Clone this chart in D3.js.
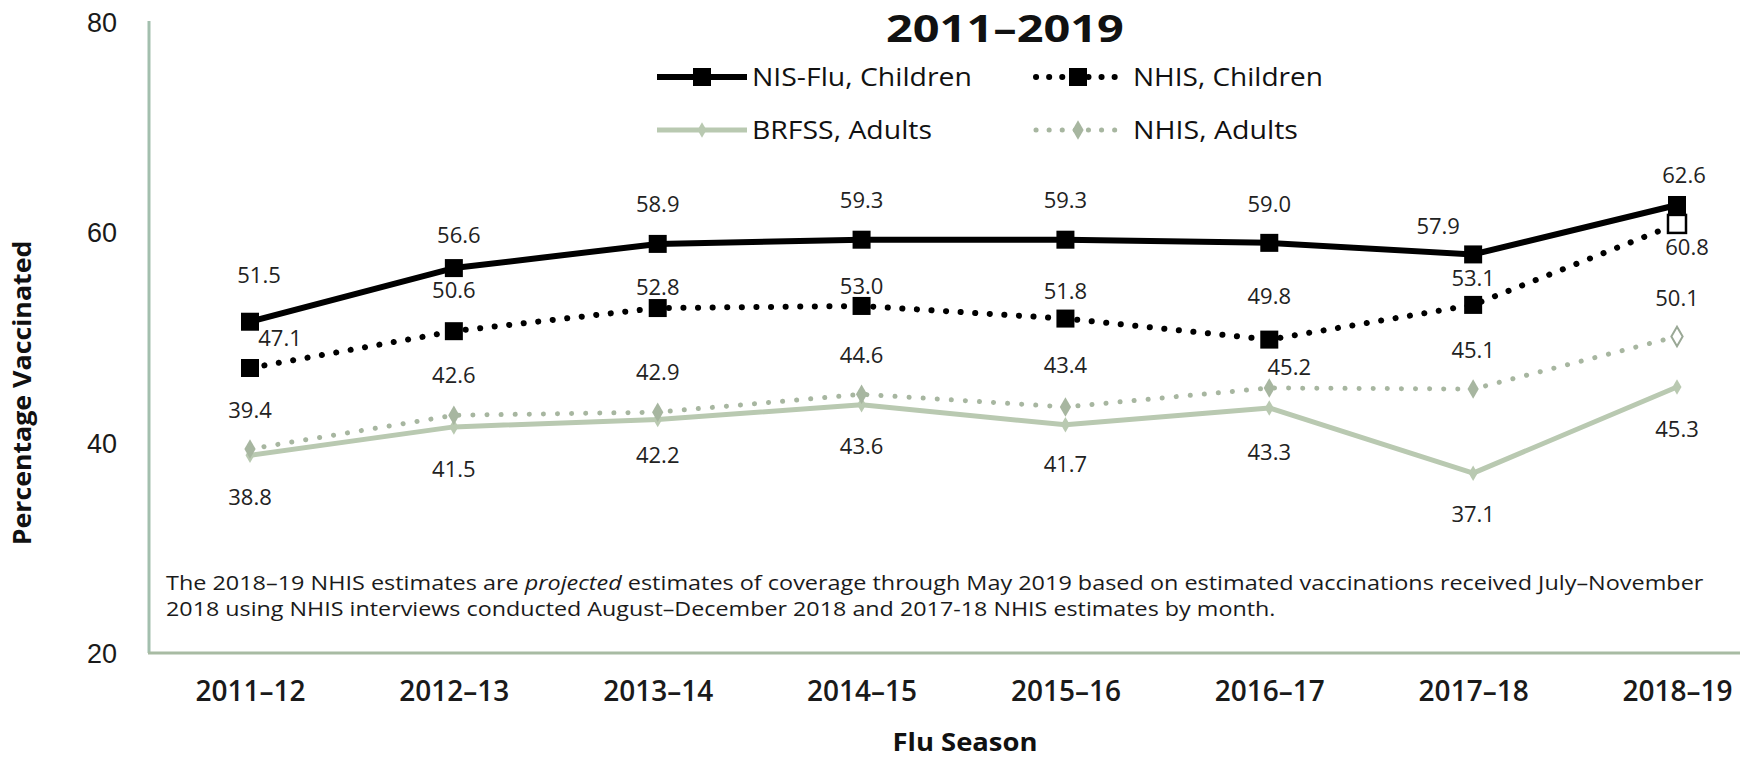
<!DOCTYPE html>
<html>
<head>
<meta charset="utf-8">
<script src="https://cdn.jsdelivr.net/npm/d3@7"></script>
<style>
  body { margin: 0; background: #fff; }
  svg { display: block; }
</style>
</head>
<body>
<div id="chart"></div>
<script>
// values
const seasons = ["2011–12", "2012–13", "2013–14", "2014–15", "2015–16", "2016–17", "2017–18", "2018–19"];
const nisFluChildren = [51.5, 56.6, 58.9, 59.3, 59.3, 59.0, 57.9, 62.6];
const nhisChildren = [47.1, 50.6, 52.8, 53.0, 51.8, 49.8, 53.1, 60.8];
const brfssAdults = [38.8, 41.5, 42.2, 43.6, 41.7, 43.3, 37.1, 45.3];
const nhisAdults = [39.4, 42.6, 42.9, 44.6, 43.4, 45.2, 45.1, 50.1];
const projectedSeason = "2018–19";
const yTicks = [20, 40, 60, 80];

const titleText = "2011–2019";
const noteLine1 = ["The 2018–19 NHIS estimates are ", "projected", " estimates of coverage through May 2019 based on estimated vaccinations received July–November"];
const noteLine2 = "2018 using NHIS interviews conducted August–December 2018 and 2017-18 NHIS estimates by month.";

const W = 1740, H = 759;
const axisColor = "#a3bfae";
const txtFont = "'Open Sans', 'Noto Sans', sans-serif";

const svg = d3.select("#chart").append("svg")
    .attr("width", W)
    .attr("height", H);

const x = d3.scalePoint().domain(seasons).range([250, 1677]);
const y = d3.scaleLinear().domain([20, 80]).range([653, 22]);

// label nudges (dx, dy from the point), one per season
const series = [
    { name: "BRFSS, Adults", values: brfssAdults, color: "#b9c9b1", width: 5, dash: null,
      marker: "diamond", msize: 70, legendW: 180,
      nudge: [[0, 42], [0, 42], [0, 36], [0, 41], [0, 40], [0, 44], [0, 41], [0, 42]] },
    { name: "NHIS, Adults", values: nhisAdults, color: "#a7b6a0", width: 5, dash: "0.1 14",
      marker: "diamond", msize: 110, legendW: 165,
      nudge: [[0, -39], [0, -40], [0, -40], [0, -39], [0, -42], [20, -21], [0, -39], [0, -38]] },
    { name: "NHIS, Children", values: nhisChildren, color: "#000", width: 6, dash: "0.1 14.5",
      marker: "square", msize: 18, legendW: 190,
      nudge: [[30, -30], [0, -41], [0, -21], [0, -20], [0, -27], [0, -43], [0, -27], [10, 23]] },
    { name: "NIS-Flu, Children", values: nisFluChildren, color: "#000", width: 6, dash: null,
      marker: "square", msize: 18, legendW: 220,
      nudge: [[9, -46], [5, -33], [0, -40], [0, -39], [0, -39], [0, -39], [-35, -28], [7, -30]] }
];

// axes
const yAxis = svg.append("g")
    .attr("transform", "translate(149,0)")
    .call(d3.axisLeft(y).tickValues(yTicks).tickSize(0).tickPadding(32).tickFormat(d3.format("d")));
yAxis.select(".domain").remove();
yAxis.selectAll("text")
    .style("font-family", "'Liberation Sans', Arial, sans-serif")
    .style("font-size", "27px")
    .attr("fill", "#1a1a1a")
    .attr("dy", "0.35em");

const xAxis = svg.append("g")
    .attr("transform", "translate(0," + y(20) + ")")
    .call(d3.axisBottom(x).tickSize(0).tickPadding(28));
xAxis.select(".domain").remove();
xAxis.selectAll("text")
    .style("font-family", txtFont)
    .style("font-size", "28px")
    .style("font-weight", "600")
    .attr("fill", "#1a1a1a");

svg.append("line")
    .attr("x1", 149).attr("x2", 149)
    .attr("y1", y(80) - 1).attr("y2", y(20))
    .attr("stroke", axisColor).attr("stroke-width", 3);
svg.append("line")
    .attr("x1", 148).attr("x2", W)
    .attr("y1", y(20)).attr("y2", y(20))
    .attr("stroke", "#a8bba3").attr("stroke-width", 3);

// stretch a text element horizontally to a target width
function fitWidth(sel, x0, target) {
    const w = sel.node().getComputedTextLength();
    sel.attr("transform", "translate(" + x0 + ",0) scale(" + (target / w) + ",1) translate(" + (-x0) + ",0)");
}

// axis titles
const yTitle = svg.append("text")
    .attr("text-anchor", "middle")
    .style("font-family", txtFont)
    .style("font-size", "25px")
    .style("font-weight", "bold")
    .attr("fill", "#111")
    .text("Percentage Vaccinated");
const yk = 305 / yTitle.node().getComputedTextLength();
yTitle.attr("transform", "translate(31,393) rotate(-90) scale(" + yk + ",1)");

const xTitle = svg.append("text")
    .attr("x", 965).attr("y", 751)
    .attr("text-anchor", "middle")
    .style("font-family", txtFont)
    .style("font-size", "25px")
    .style("font-weight", "bold")
    .attr("fill", "#111")
    .text("Flu Season");
fitWidth(xTitle, 965, 145);

// title
const title = svg.append("text")
    .attr("x", 886).attr("y", 42)
    .style("font-family", txtFont)
    .style("font-size", "38px")
    .style("font-weight", "bold")
    .attr("fill", "#111")
    .text(titleText);
fitWidth(title, 886, 238);

// note
const note1 = svg.append("text")
    .attr("x", 166).attr("y", 590)
    .style("font-family", txtFont)
    .style("font-size", "20.5px")
    .attr("fill", "#1a1a1a");
note1.selectAll("tspan")
    .data(noteLine1)
    .join("tspan")
    .style("font-style", (d, i) => i === 1 ? "italic" : "normal")
    .text(d => d);
fitWidth(note1, 166, 1538);

const note2 = svg.append("text")
    .attr("x", 166).attr("y", 616)
    .style("font-family", txtFont)
    .style("font-size", "20.5px")
    .attr("fill", "#1a1a1a")
    .text(noteLine2);
fitWidth(note2, 166, 1110);

// lines, markers, labels
const line = d3.line()
    .x((d, i) => x(seasons[i]))
    .y(d => y(d));

function drawMarker(g, s, cx, cy, open) {
    if (s.marker === "square") {
        g.append("rect")
            .attr("x", cx - s.msize / 2).attr("y", cy - s.msize / 2)
            .attr("width", s.msize).attr("height", s.msize)
            .attr("fill", open ? "#fff" : s.color)
            .attr("stroke", s.color)
            .attr("stroke-width", open ? 2.5 : 0);
    } else {
        g.append("path")
            .attr("transform", "translate(" + cx + "," + cy + ")")
            .attr("d", d3.symbol().type(d3.symbolDiamond).size(s.msize)())
            .attr("fill", open ? "#fff" : s.color)
            .attr("stroke", open ? "#9aa896" : s.color)
            .attr("stroke-width", open ? 2 : 0);
    }
}

series.forEach(s => {
    const g = svg.append("g");
    g.append("path")
        .datum(s.values)
        .attr("d", line)
        .attr("fill", "none")
        .attr("stroke", s.color)
        .attr("stroke-width", s.width)
        .attr("stroke-linecap", s.dash ? "round" : "butt")
        .attr("stroke-linejoin", "round")
        .attr("stroke-dasharray", s.dash);

    s.values.forEach((v, i) => {
        const open = s.name.startsWith("NHIS") && seasons[i] === projectedSeason;
        drawMarker(g, s, x(seasons[i]), y(v), open);
    });
});

// data labels on top of everything
series.forEach(s => {
    svg.append("g").selectAll("text")
        .data(s.values)
        .join("text")
        .attr("x", (d, i) => x(seasons[i]) + s.nudge[i][0])
        .attr("y", (d, i) => y(d) + s.nudge[i][1])
        .attr("dy", "0.35em")
        .attr("text-anchor", "middle")
        .style("font-family", txtFont)
        .style("font-size", "22px")
        .attr("fill", "#222")
        .text(d => d.toFixed(1));
});

// legend
const legendItems = [
    { s: series[3], x0: 657, y0: 77 },
    { s: series[2], x0: 1036, y0: 77 },
    { s: series[0], x0: 657, y0: 130 },
    { s: series[1], x0: 1036, y0: 130 }
];
legendItems.forEach(it => {
    const s = it.s;
    const g = svg.append("g");
    const len = s.dash ? 84 : 90;
    g.append("line")
        .attr("x1", it.x0).attr("x2", it.x0 + len)
        .attr("y1", it.y0).attr("y2", it.y0)
        .attr("stroke", s.color)
        .attr("stroke-width", s.width)
        .attr("stroke-linecap", s.dash ? "round" : "butt")
        .attr("stroke-dasharray", s.dash ? "0.1 13" : null);
    drawMarker(g, s, it.x0 + len / 2, it.y0, false);
    const tx = it.x0 + len + (s.dash ? 13 : 5);
    const t = g.append("text")
        .attr("x", tx)
        .attr("y", it.y0)
        .attr("dy", "0.35em")
        .style("font-family", txtFont)
        .style("font-size", "25px")
        .attr("fill", "#111")
        .text(s.name);
    fitWidth(t, tx, s.legendW);
});
</script>
</body>
</html>
